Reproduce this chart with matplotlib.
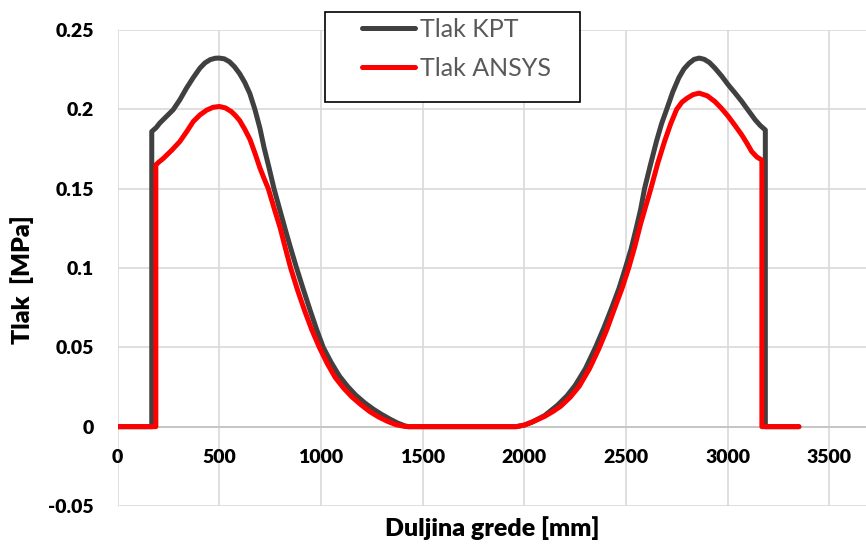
import numpy as np
import matplotlib.pyplot as plt
from matplotlib.patches import Rectangle

# pressure along the beam
kpt_x = [0, 168, 168, 190, 207, 240, 273, 306, 339, 372, 405, 430, 455, 480, 500,
         525, 550, 575, 600, 625, 650, 675, 700, 720, 745, 769, 797, 825, 852, 880,
         912, 945, 978, 1011, 1050, 1090, 1130, 1170, 1215, 1260, 1300, 1340, 1375,
         1410, 1430, 1960, 2000, 2040, 2100, 2163, 2210, 2250, 2300, 2350, 2390,
         2430, 2465, 2497, 2525, 2550, 2572, 2591, 2620, 2650, 2675, 2700, 2730,
         2760, 2785, 2810, 2835, 2860, 2885, 2910, 2937, 2970, 3003, 3036, 3069,
         3100, 3135, 3160, 3185, 3185, 3350]
kpt_y = [0, 0, 0.186, 0.1885, 0.1913, 0.1955, 0.1997, 0.206, 0.2134, 0.220, 0.226,
         0.2293, 0.2313, 0.2322, 0.2323, 0.2318, 0.2300, 0.2268, 0.2225, 0.217,
         0.2100, 0.200, 0.188, 0.176, 0.163, 0.150, 0.137, 0.124, 0.112, 0.100,
         0.087, 0.074, 0.0615, 0.050, 0.0405, 0.032, 0.0255, 0.020, 0.015, 0.0108,
         0.0076, 0.0047, 0.0024, 0.0006, 0, 0, 0.001, 0.003, 0.007, 0.0135, 0.0195,
         0.026, 0.0365, 0.050, 0.062, 0.075, 0.087, 0.100, 0.112, 0.125, 0.137,
         0.150, 0.165, 0.180, 0.191, 0.200, 0.211, 0.220, 0.2255, 0.229, 0.2315,
         0.2323, 0.2315, 0.2295, 0.226, 0.221, 0.2154, 0.2103, 0.205, 0.1995,
         0.1934, 0.1898, 0.187, 0, 0]

ansys_x = [0, 188, 188, 205, 226, 266, 306, 340, 372, 405, 438, 470, 500, 530,
           560, 580, 600, 625, 651, 675, 700, 720, 741, 770, 800, 825, 851, 885,
           920, 955, 992, 1030, 1070, 1110, 1150, 1195, 1240, 1285, 1330, 1370,
           1410, 1430, 1960, 2000, 2040, 2100, 2140, 2178, 2225, 2270, 2320, 2366,
           2405, 2445, 2480, 2513, 2542, 2570, 2597, 2622, 2656, 2690, 2720, 2749,
           2775, 2800, 2830, 2860, 2900, 2937, 2970, 3003, 3036, 3069, 3095, 3118,
           3143, 3168, 3168, 3350]
ansys_y = [0, 0, 0.165, 0.167, 0.1692, 0.1742, 0.1797, 0.186, 0.1923, 0.1965,
           0.1995, 0.2013, 0.2018, 0.2009, 0.1985, 0.196, 0.193, 0.1875, 0.181,
           0.1725, 0.163, 0.1565, 0.150, 0.1375, 0.125, 0.1125, 0.100, 0.086,
           0.073, 0.061, 0.050, 0.040, 0.031, 0.0245, 0.019, 0.014, 0.0095, 0.006,
           0.0032, 0.0012, 0.0002, 0, 0, 0.001, 0.003, 0.0065, 0.0095, 0.0128,
           0.0185, 0.0255, 0.0365, 0.049, 0.061, 0.075, 0.087, 0.100, 0.113, 0.127,
           0.139, 0.150, 0.166, 0.180, 0.191, 0.200, 0.2045, 0.207, 0.2093, 0.2102,
           0.2085, 0.2049, 0.2005, 0.1955, 0.1898, 0.1839, 0.1785, 0.1734, 0.170,
           0.168, 0, 0]

x_ticks = [0, 500, 1000, 1500, 2000, 2500, 3000, 3500]
y_ticks = [-0.05, 0, 0.05, 0.1, 0.15, 0.2, 0.25]
y_tick_labels = ["-0.05", "0", "0.05", "0.1", "0.15", "0.2", "0.25"]

plt.rcParams['font.family'] = ['Lato', 'DejaVu Sans']

fig = plt.figure(figsize=(8.66, 5.44), dpi=100)
ax = fig.add_axes([117.6 / 866, 38 / 544, 1 - 117.6 / 866, 476 / 544])

ax.plot(kpt_x, kpt_y, color="#404040", lw=3.6, solid_capstyle="round",
        solid_joinstyle="round", label="Tlak KPT", zorder=3)
ax.plot(ansys_x, ansys_y, color="#ff0000", lw=3.6, solid_capstyle="round",
        solid_joinstyle="round", label="Tlak ANSYS", zorder=4)

ax.set_xlim(0, 3680)
ax.set_ylim(-0.05, 0.25)
ax.set_xticks(x_ticks)
ax.set_yticks(y_ticks)
ax.set_yticklabels(y_tick_labels)
ax.grid(True, color="#d9d9d9", lw=1.2)
ax.set_axisbelow(True)
ax.axhline(0, color="#c4c4c4", lw=1.3, zorder=2)

for s in ax.spines.values():
    s.set_visible(False)
ax.spines['bottom'].set_position(('data', 0))
ax.tick_params(axis='both', length=0, labelsize=14)
ax.tick_params(axis='x', pad=16)
ax.tick_params(axis='y', pad=17)
for lbl in ax.get_xticklabels() + ax.get_yticklabels():
    lbl.set_fontweight("heavy")

ax.set_xlabel("Duljina grede [mm]", fontsize=18, fontweight="heavy")
ax.xaxis.set_label_coords(0.5, -0.046)
ax.xaxis.label.set_va("center")
ax.set_ylabel("Tlak  [MPa]", fontsize=18, fontweight="heavy")
ax.yaxis.set_label_coords(-0.127, 0.475)
ax.yaxis.label.set_va("center")

# legend box
fig.add_artist(Rectangle((325 / 866, 1 - 102 / 544), 255 / 866, 90 / 544,
                         transform=fig.transFigure, facecolor="white",
                         edgecolor="black", lw=1.2, zorder=4))
handles, labels = ax.get_legend_handles_labels()
leg = fig.legend(handles, labels, loc="upper left",
                 bbox_to_anchor=(362 / 866, 1 - 18 / 544), frameon=False,
                 borderpad=0, borderaxespad=0, handlelength=2.12,
                 handletextpad=0.2, labelspacing=0.64, fontsize=18)
for t in leg.get_texts():
    t.set_color("#595959")

fig.savefig("out.png", dpi=100)
